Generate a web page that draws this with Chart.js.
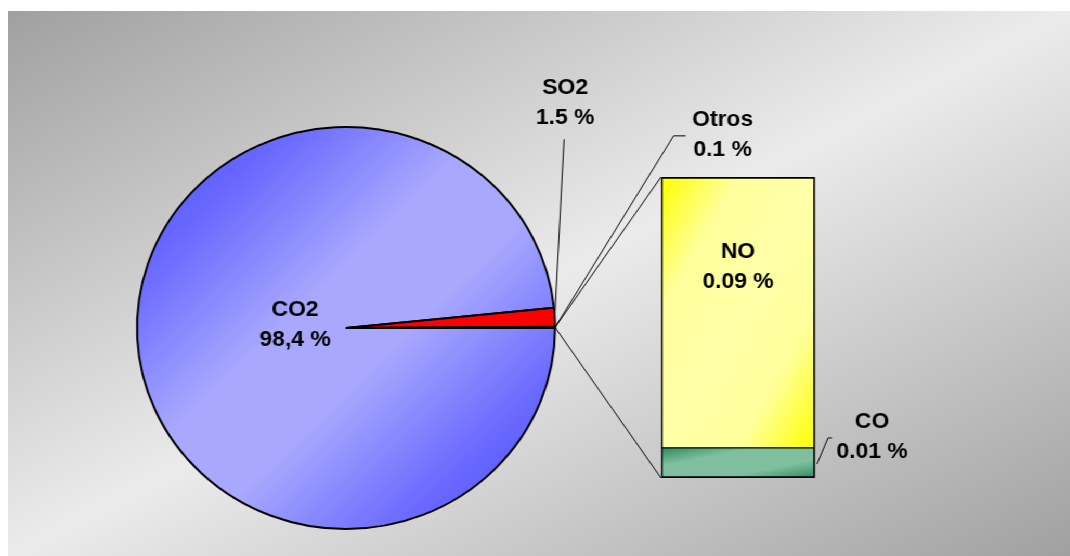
<!DOCTYPE html>
<html>
<head>
<meta charset="utf-8">
<script src="https://cdn.jsdelivr.net/npm/chart.js@4.4.1/dist/chart.umd.min.js"></script>
<style>
  html, body { margin: 0; padding: 0; background: #fff; overflow: hidden; width: 1070px; height: 556px; }
  #plate {
    position: absolute; left: 8px; top: 11px; width: 1062px; height: 545px;
    background: linear-gradient(to bottom right, #a0a0a0 0%, #ebebeb 50%, #a0a0a0 100%);
  }
  #stage {
    position: absolute; left: 0; top: 0; width: 1029px; height: 556px;
    transform: scaleX(1.04); transform-origin: 0 0;
  }
  #stage canvas { position: absolute; left: 0; top: 0; }
</style>
</head>
<body>
<div id="plate"></div>
<div id="stage">
  <canvas id="pie" width="1029" height="556"></canvas>
  <canvas id="bar" width="1029" height="556"></canvas>
</div>
<script>
// Main pie: share of each emission
const pieLabels = ['CO2', 'SO2', 'Otros'];
const pieValues = [98.4, 1.5, 0.1];
const pieValueText = ['98,4 %', '1.5 %', '0.1 %'];

// Breakdown of the "Otros" slice (stacked from bottom)
const barLabels = ['CO', 'NO'];
const barValues = [0.01, 0.09];
const barValueText = ['0.01 %', '0.09 %'];

const FONT = 'bold 22px "Liberation Sans", Arial, sans-serif';
const LINE_GAP = 30;

// Linear gradient whose mid line runs through the two other corners of the box
function diagGradient(ctx, x0, y0, w, h, stops) {
  const k = 2 * w * h / (w * w + h * h);
  const g = ctx.createLinearGradient(x0, y0, x0 + h * k, y0 + w * k);
  stops.forEach(([t, c]) => g.addColorStop(t, c));
  return g;
}

const BLUE = [[0, '#4444ff'], [0.2, '#6c6cff'], [0.42, '#a8a8ff'], [0.58, '#a8a8ff'], [0.8, '#6c6cff'], [1, '#4444ff']];
const YELLOW = [[0, '#ffff00'], [0.25, '#ffff9c'], [0.5, '#ffffa8'], [0.75, '#ffff9c'], [1, '#ffff00']];
const GREEN = [[0, '#2b8a5c'], [0.3, '#7fbf9f'], [0.7, '#7fbf9f'], [1, '#2b8a5c']];

const PIE_RADIUS = 201;

function edgePoint(arc, extra) {
  const mid = (arc.startAngle + arc.endAngle) / 2;
  const r = arc.outerRadius + (extra || 0);
  return { x: arc.x + Math.cos(mid) * r, y: arc.y + Math.sin(mid) * r };
}

function textLines(ctx, lines, x, y) {
  lines.forEach((s, i) => ctx.fillText(s, x, y + i * LINE_GAP));
}

function polyline(ctx, pts) {
  ctx.beginPath();
  ctx.moveTo(pts[0][0], pts[0][1]);
  for (let i = 1; i < pts.length; i++) ctx.lineTo(pts[i][0], pts[i][1]);
  ctx.stroke();
}

// Labels and leader lines of the pie
const pieDecor = {
  id: 'pieDecor',
  afterDraw(chart) {
    const ctx = chart.ctx;
    const arcs = chart.getDatasetMeta(0).data;
    ctx.save();
    ctx.font = FONT;
    ctx.fillStyle = '#000';
    ctx.strokeStyle = '#000';
    ctx.lineWidth = 1;
    ctx.textAlign = 'center';
    ctx.textBaseline = 'middle';

    // CO2 inside the pie
    const c = arcs[0];
    textLines(ctx, [pieLabels[0], pieValueText[0]], c.x - 49, c.y - 18);

    // SO2 outside, straight leader
    const s = edgePoint(arcs[1]);
    const sEnd = [s.x + 9, s.y - 178];
    polyline(ctx, [[s.x, s.y], sEnd]);
    textLines(ctx, [pieLabels[1], pieValueText[1]], sEnd[0] + 1, sEnd[1] - 51);

    // Otros with an elbow leader
    const o = edgePoint(arcs[2]);
    const elbow = [o.x + 114, o.y - 191.5];
    const oEnd = [elbow[0] + 11.6, elbow[1]];
    polyline(ctx, [[o.x, o.y], elbow, oEnd]);
    textLines(ctx, [pieLabels[2], pieValueText[2]], oEnd[0] + 35.6, oEnd[1] - 15.5);
    ctx.restore();
  }
};

const pieChart = new Chart(document.getElementById('pie'), {
  type: 'pie',
  data: {
    labels: pieLabels,
    datasets: [{
      data: pieValues,
      rotation: 90,
      radius: PIE_RADIUS,
      borderColor: '#000',
      borderWidth: 2,
      backgroundColor: (c) => {
        const area = c.chart.chartArea;
        if (c.dataIndex === 1) return '#ff0000';
        if (c.dataIndex === 2) return '#000000';
        if (!area) return '#9999ff';
        const cx = (area.left + area.right) / 2;
        const cy = (area.top + area.bottom) / 2;
        return diagGradient(c.chart.ctx, cx - PIE_RADIUS, cy - PIE_RADIUS, 2 * PIE_RADIUS, 2 * PIE_RADIUS, BLUE);
      }
    }]
  },
  options: {
    responsive: false,
    animation: false,
    events: [],
    devicePixelRatio: 1,
    layout: { padding: { left: 0, right: 363.6, top: 100, bottom: 0 } },
    plugins: { legend: { display: false }, tooltip: { enabled: false } }
  },
  plugins: [pieDecor]
});

// Connectors from the Otros slice to the bar, plus bar labels
const barDecor = {
  id: 'barDecor',
  afterDraw(chart) {
    const ctx = chart.ctx;
    const co = chart.getDatasetMeta(0).data[0];
    const no = chart.getDatasetMeta(1).data[0];
    const left = no.x - no.width / 2;
    const right = no.x + no.width / 2;
    const o = edgePoint(pieChart.getDatasetMeta(0).data[2]);

    ctx.save();
    ctx.strokeStyle = '#000';
    ctx.lineWidth = 1;
    polyline(ctx, [[o.x, o.y], [left, no.y]]);
    polyline(ctx, [[o.x, o.y], [left, co.base]]);

    ctx.font = FONT;
    ctx.fillStyle = '#000';
    ctx.textAlign = 'center';
    ctx.textBaseline = 'middle';

    // NO inside its segment
    textLines(ctx, [barLabels[1], barValueText[1]], no.x, no.y + 75);

    // CO beside its segment with a short leader
    const coMid = (co.y + co.base) / 2;
    const start = [right + 2, coMid + 1];
    const elbow = [right + 12.5, coMid - 25];
    const end = [elbow[0] + 3.8, elbow[1]];
    polyline(ctx, [start, elbow, end]);
    textLines(ctx, [barLabels[0], barValueText[0]], right + 54.9, elbow[1] - 16);
    ctx.restore();
  }
};

function segmentFill(stops) {
  return (c) => {
    const chart = c.chart;
    const area = chart.chartArea;
    const ys = chart.scales && chart.scales.y;
    if (!area || !ys) return stops[1][1];
    const lo = barValues.slice(0, c.datasetIndex).reduce((a, b) => a + b, 0);
    const hi = lo + barValues[c.datasetIndex];
    const top = ys.getPixelForValue(hi);
    const bottom = ys.getPixelForValue(lo);
    return diagGradient(chart.ctx, area.left, top, area.right - area.left, bottom - top, stops);
  };
}

new Chart(document.getElementById('bar'), {
  type: 'bar',
  data: {
    labels: ['Otros'],
    datasets: [
      {
        label: barLabels[0],
        data: [barValues[0]],
        backgroundColor: segmentFill(GREEN),
        borderColor: '#000',
        borderWidth: { top: 1, left: 2, right: 2, bottom: 2 },
        borderSkipped: false
      },
      {
        label: barLabels[1],
        data: [barValues[1]],
        backgroundColor: segmentFill(YELLOW),
        borderColor: '#000',
        borderWidth: { top: 2, left: 2, right: 2, bottom: 1 },
        borderSkipped: false
      }
    ]
  },
  options: {
    responsive: false,
    animation: false,
    events: [],
    devicePixelRatio: 1,
    barPercentage: 1,
    categoryPercentage: 1,
    layout: { padding: { left: 635.6, right: 245.35, top: 177, bottom: 78 } },
    scales: {
      x: { stacked: true, display: false },
      y: { stacked: true, display: false, min: 0, max: barValues.reduce((a, b) => a + b, 0) }
    },
    plugins: { legend: { display: false }, tooltip: { enabled: false } }
  },
  plugins: [barDecor]
});
</script>
</body>
</html>
